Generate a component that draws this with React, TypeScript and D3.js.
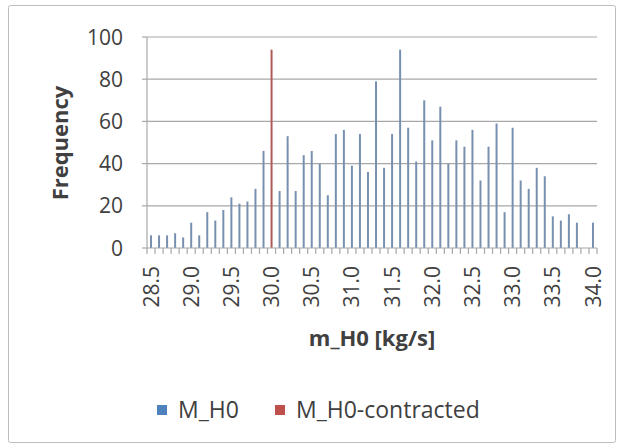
import React from "react";
import * as d3 from "d3";

const categories: string[] = [
  "28.5","28.6","28.7","28.8","28.9","29.0","29.1","29.2","29.3","29.4",
  "29.5","29.6","29.7","29.8","29.9","30.0","30.1","30.2","30.3","30.4",
  "30.5","30.6","30.7","30.8","30.9","31.0","31.1","31.2","31.3","31.4",
  "31.5","31.6","31.7","31.8","31.9","32.0","32.1","32.2","32.3","32.4",
  "32.5","32.6","32.7","32.8","32.9","33.0","33.1","33.2","33.3","33.4",
  "33.5","33.6","33.7","33.8","33.9","34.0"
];

const mH0: number[] = [
  6, 6, 6, 7, 5, 12, 6, 17, 13, 18,
  24, 21, 22, 28, 46, 0, 27, 53, 27, 44,
  46, 40, 25, 54, 56, 39, 54, 36, 79, 38,
  54, 94, 57, 41, 70, 51, 67, 40, 51, 48,
  56, 32, 48, 59, 17, 57, 32, 28, 38, 34,
  15, 13, 16, 12, 0, 12
];

const mH0Contracted: number[] = categories.map((c) => (c === "30.0" ? 94 : 0));

const yTicks: number[] = [0, 20, 40, 60, 80, 100];
const xLabelEvery = 5;

const W = 621;
const H = 448;
const plot = { left: 147, right: 597, top: 37, bottom: 248 };
const FONT = "'Open Sans', 'DejaVu Sans', sans-serif";
const BLUE = "#7890b0";
const RED = "#b05a58";
const GRID = "#a8a8a8";
const TEXT = "#404040";

export default function App() {
  const x = d3.scaleBand<string>().domain(categories).range([plot.left, plot.right]).padding(0);
  const y = d3.scaleLinear().domain([0, 100]).range([plot.bottom, plot.top]);
  const bw = 2;
  const cx = (c: string) => (x(c) as number) + x.bandwidth() / 2;

  const boundaries = d3.range(categories.length + 1).map((i) => plot.left + i * x.bandwidth());

  return (
    <svg width={W} height={H} style={{ position: "absolute", left: 0, top: 0 }} fontFamily={FONT}>
      <rect x={0} y={0} width={W} height={H} fill="#fff" />
      <rect x={8.5} y={5.5} width={607} height={437} fill="#fff" stroke="#bdbdbd" strokeWidth={1} rx={2} />

      {/* gridlines */}
      {yTicks.filter((t) => t > 0).map((t) => (
        <line key={"g" + t} x1={plot.left} x2={plot.right} y1={y(t)} y2={y(t)} stroke={GRID} strokeWidth={1.2} />
      ))}

      {/* bars */}
      {categories.map((c, i) =>
        mH0[i] > 0 ? (
          <rect key={"b" + c} x={cx(c) - bw / 2} y={y(mH0[i])} width={bw} height={y(0) - y(mH0[i])} fill={BLUE} />
        ) : null
      )}
      {categories.map((c, i) =>
        mH0Contracted[i] > 0 ? (
          <rect key={"r" + c} x={cx(c) - bw / 2} y={y(mH0Contracted[i])} width={bw} height={y(0) - y(mH0Contracted[i])} fill={RED} />
        ) : null
      )}

      {/* y axis */}
      <line x1={plot.left} x2={plot.left} y1={plot.top} y2={plot.bottom} stroke={GRID} strokeWidth={1.2} />
      {yTicks.map((t) => (
        <g key={"yt" + t}>
          <line x1={plot.left - 5} x2={plot.left} y1={y(t)} y2={y(t)} stroke={GRID} strokeWidth={1.2} />
          <text x={123} y={y(t)} dy="0.36em" textAnchor="end" fontSize={21} fill={TEXT}>
            {t}
          </text>
        </g>
      ))}

      {/* x axis */}
      <line x1={plot.left} x2={plot.right} y1={plot.bottom} y2={plot.bottom} stroke={GRID} strokeWidth={1.2} />
      {boundaries.map((bx, i) => (
        <line key={"xt" + i} x1={bx} x2={bx} y1={plot.bottom} y2={plot.bottom + 6} stroke={GRID} strokeWidth={1.2} />
      ))}
      {categories.map((c, i) =>
        i % xLabelEvery === 0 ? (
          <text
            key={"xl" + c}
            transform={`translate(${cx(c)},${266}) rotate(-90)`}
            dy="0.36em"
            textAnchor="end"
            fontSize={21}
            fill={TEXT}
          >
            {c}
          </text>
        ) : null
      )}

      {/* axis titles */}
      <text transform={`translate(68,143) rotate(-90)`} textAnchor="middle" fontSize={22} fontWeight="bold" fill={TEXT}>
        Frequency
      </text>
      <text x={(plot.left + plot.right) / 2} y={346} textAnchor="middle" fontSize={22} fontWeight="bold" fill={TEXT}>
        m_H0 [kg/s]
      </text>

      {/* legend */}
      <rect x={157} y={405} width={10} height={10} fill="#4f81bd" />
      <text x={178} y={418} fontSize={23} fill={TEXT}>M_H0</text>
      <rect x={275} y={405} width={10} height={10} fill="#c0504d" />
      <text x={296} y={418} fontSize={23} fill={TEXT}>M_H0-contracted</text>
    </svg>
  );
}
